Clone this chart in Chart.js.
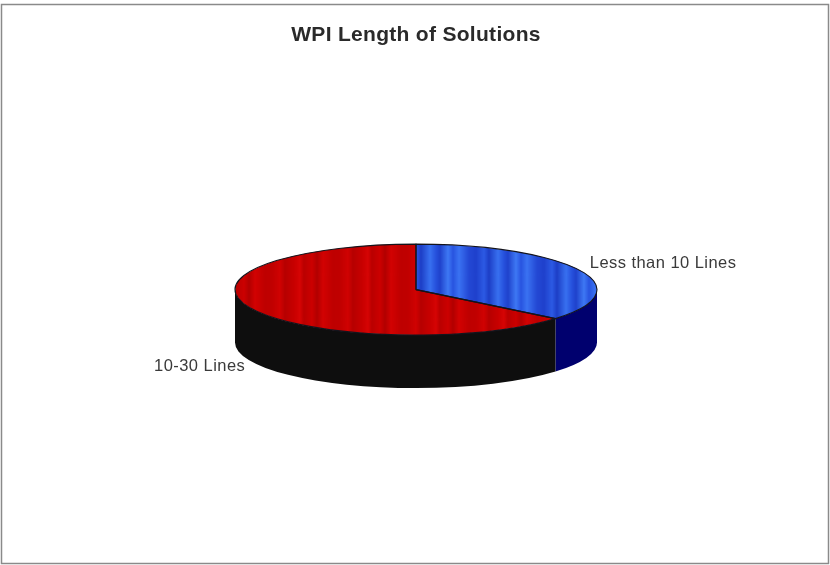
<!DOCTYPE html>
<html>
<head>
<meta charset="utf-8">
<style>
  html, body { margin: 0; padding: 0; background: #fff; }
  #wrap { width: 830px; height: 565px; }
</style>
<script src="https://cdn.jsdelivr.net/npm/chart.js@4/dist/chart.umd.js"></script>
</head>
<body>
<div id="wrap"><canvas id="chart" width="830" height="565"></canvas></div>
<script>
// Share of solutions by length
const categories = ['Less than 10 Lines', '10-30 Lines'];
const shares = [36, 64];

// Face and wall colours of each slice
const faceShades = [
  ['#1f40cc', '#2c5ae4', '#1d3ec6', '#3870f0', '#2650dc', '#1f42cc', '#3e78f4', '#2854e0', '#3a72f2', '#2348d4'],
  ['#c00000', '#d00202', '#b60000', '#c80000', '#d60404', '#ba0000', '#cc0000', '#b20000', '#d20202', '#be0000']
];
const stripeWidths = [8, 5, 9, 6, 4, 8, 5, 6, 10, 7];
const wallColors = ['#00006e', '#0e0e0e'];
const edgeColor = '#14141c';

const tilt = 0.2514;   // vertical squash of the disc
const depth = 53;      // wall height in pixels

// Repeating soft vertical stripes used as the fill of a slice
function stripes(shades) {
  const total = stripeWidths.reduce((a, b) => a + b, 0);
  const tile = document.createElement('canvas');
  tile.width = total;
  tile.height = 4;
  const c = tile.getContext('2d');
  const ramp = c.createLinearGradient(0, 0, total, 0);
  let x = 0;
  shades.forEach((shade, i) => {
    ramp.addColorStop(x / total, shade);
    x += stripeWidths[i];
  });
  ramp.addColorStop(1, shades[0]);
  c.fillStyle = ramp;
  c.fillRect(0, 0, total, 4);
  return c.createPattern(tile, 'repeat');
}

function squash(ctx, el) {
  ctx.translate(el.x, el.y);
  ctx.scale(1, tilt);
  ctx.translate(-el.x, -el.y);
}

const thickPie = {
  id: 'thickPie',
  beforeDraw(chart) {
    // Thin frame round the whole figure
    const ctx = chart.ctx;
    ctx.save();
    ctx.strokeStyle = '#8a8a8a';
    ctx.lineWidth = 1.5;
    ctx.strokeRect(1.5, 4.5, 827, 559);
    ctx.restore();
    ctx.letterSpacing = '0.3px';
  },
  beforeDatasetDraw(chart) {
    const ctx = chart.ctx;
    ctx.letterSpacing = '0px';
    const arcs = chart.getDatasetMeta(0).data;
    // Walls: only the front half of the rim faces the viewer
    arcs.forEach((el, i) => {
      const a = Math.max(el.startAngle, 0);
      const b = Math.min(el.endAngle, Math.PI);
      if (b <= a) return;
      const r = el.outerRadius;
      const ry = r * tilt;
      ctx.save();
      ctx.beginPath();
      ctx.ellipse(el.x, el.y, r, ry, 0, a, b);
      ctx.ellipse(el.x, el.y + depth, r, ry, 0, b, a, true);
      ctx.closePath();
      ctx.fillStyle = wallColors[i];
      ctx.fill();
      ctx.restore();
    });
    ctx.save();
    squash(ctx, arcs[0]);
  },
  afterDatasetDraw(chart) {
    const ctx = chart.ctx;
    ctx.restore();
    const arcs = chart.getDatasetMeta(0).data;
    // Slice outlines at constant stroke width
    arcs.forEach((el) => {
      const r = el.outerRadius;
      ctx.save();
      ctx.beginPath();
      ctx.moveTo(el.x, el.y);
      ctx.ellipse(el.x, el.y, r, r * tilt, 0, el.startAngle, el.endAngle);
      ctx.closePath();
      ctx.strokeStyle = edgeColor;
      ctx.lineWidth = 1.1;
      ctx.lineJoin = 'round';
      ctx.stroke();
      ctx.restore();
    });
    // Category labels placed beside the middle of each slice
    ctx.save();
    ctx.font = '16.5px "Liberation Sans", Arial, sans-serif';
    ctx.letterSpacing = '0.45px';
    ctx.fillStyle = '#3a3a3a';
    ctx.textBaseline = 'middle';
    arcs.forEach((el, i) => {
      const mid = (el.startAngle + el.endAngle) / 2;
      const cos = Math.cos(mid);
      const sin = Math.sin(mid);
      const x = el.x + el.outerRadius * cos + (cos >= 0 ? 10 : -7);
      const y = el.y + el.outerRadius * tilt * sin + (sin > 0 ? depth + 4 : -7);
      ctx.textAlign = cos >= 0 ? 'left' : 'right';
      ctx.fillText(categories[i], x, y);
    });
    ctx.restore();
  }
};

new Chart(document.getElementById('chart'), {
  type: 'pie',
  data: {
    labels: categories,
    datasets: [{
      data: shares,
      backgroundColor: faceShades.map(stripes),
      borderWidth: 0,
      clip: false
    }]
  },
  options: {
    responsive: false,
    animation: false,
    layout: { padding: { left: 235, right: 233, top: 0, bottom: 46 } },
    plugins: {
      legend: { display: false },
      tooltip: { enabled: false },
      title: {
        display: true,
        text: 'WPI Length of Solutions',
        color: '#2a2a2a',
        font: { family: '"Liberation Sans", Arial, sans-serif', size: 21, weight: 'bold' },
        padding: { top: 23, bottom: 12 }
      }
    }
  },
  plugins: [thickPie]
});
</script>
</body>
</html>
